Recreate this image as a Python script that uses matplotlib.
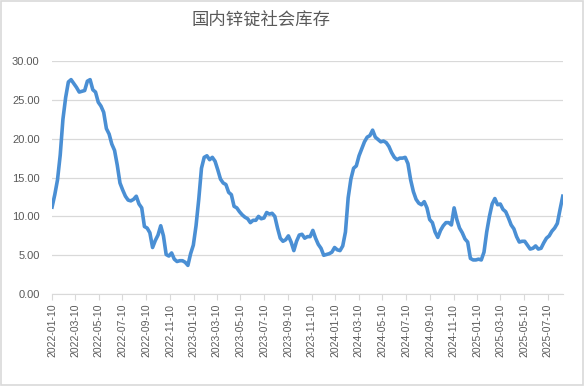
import matplotlib
matplotlib.use("Agg")
import matplotlib.pyplot as plt
import matplotlib.dates as mdates
from matplotlib.patches import Rectangle
import numpy as np
import pandas as pd

plt.rcParams['font.family'] = ['Liberation Sans', 'Noto Sans CJK SC', 'DejaVu Sans']

# 周度数据, 从 2022-01-10 开始 (万吨)
start_date = "2022-01-10"
stock = [
    11.2, 12.8, 14.7, 17.9, 22.5, 25.3, 27.3, 27.6, 27.1, 26.6,
    26.0, 26.1, 26.2, 27.4, 27.6, 26.3, 26.0, 24.7, 24.2, 23.4,
    21.3, 20.6, 19.3, 18.5, 16.6, 14.3, 13.4, 12.6, 12.1, 12.0,
    12.2, 12.6, 11.6, 11.1, 8.7, 8.5, 7.9, 6.0, 6.9, 7.6,
    8.8, 7.5, 5.1, 4.9, 5.3, 4.5, 4.2, 4.3, 4.3, 4.1,
    3.7, 5.2, 6.3, 8.8, 12.2, 16.2, 17.6, 17.8, 17.3, 17.6,
    17.1, 16.0, 14.8, 14.3, 14.1, 13.1, 12.8, 11.3, 11.1, 10.6,
    10.2, 9.9, 9.7, 9.2, 9.5, 9.5, 10.0, 9.7, 9.8, 10.5,
    10.3, 10.4, 10.0, 8.5, 7.2, 6.8, 7.0, 7.5, 6.7, 5.6,
    6.8, 7.6, 7.7, 7.2, 7.4, 7.4, 8.2, 7.2, 6.4, 5.9,
    5.0, 5.1, 5.2, 5.4, 6.0, 5.7, 5.6, 6.2, 8.0, 12.4,
    14.8, 16.2, 16.5, 17.8, 18.7, 19.6, 20.2, 20.4, 21.1, 20.2,
    19.9, 19.6, 19.7, 19.5, 19.0, 18.2, 17.6, 17.3, 17.5, 17.5,
    17.6, 16.8, 14.7, 13.2, 12.2, 11.7, 11.5, 11.9, 11.1, 9.6,
    9.2, 8.0, 7.3, 8.2, 8.8, 9.2, 9.2, 8.9, 11.1, 9.6,
    8.5, 7.9, 7.1, 6.7, 4.6, 4.4, 4.4, 4.5, 4.4, 5.4,
    8.0, 10.0, 11.6, 12.3, 11.5, 11.6, 10.9, 10.6, 9.8, 8.9,
    8.4, 7.4, 6.7, 6.8, 6.8, 6.3, 5.8, 5.9, 6.2, 5.8,
    5.9, 6.6, 7.2, 7.5, 8.1, 8.5, 9.1, 10.9, 12.6,
]
tick_labels = [
    "2022-01-10", "2022-03-10", "2022-05-10", "2022-07-10", "2022-09-10", "2022-11-10",
    "2023-01-10", "2023-03-10", "2023-05-10", "2023-07-10", "2023-09-10", "2023-11-10",
    "2024-01-10", "2024-03-10", "2024-05-10", "2024-07-10", "2024-09-10", "2024-11-10",
    "2025-01-10", "2025-03-10", "2025-05-10", "2025-07-10",
]
y_ticks = [0, 5, 10, 15, 20, 25, 30]
title = "国内锌锭社会库存"

dates = pd.date_range(start_date, periods=len(stock), freq="7D")
ticks = pd.to_datetime(tick_labels)

grey = "#595959"
fig = plt.figure(figsize=(5.85, 3.86), dpi=100)
ax = fig.add_axes([0.089, 0.238, 0.873, 0.604])

ax.plot(dates, stock, color="#4A8FD4", lw=2.6, solid_joinstyle="round")

ax.set_ylim(0, 30)
ax.set_yticks(y_ticks)
ax.yaxis.set_major_formatter(plt.FuncFormatter(lambda v, p: f"{v:.2f}"))
ax.set_xlim(dates[0], dates[-1])
ax.set_xticks(ticks)
ax.set_xticklabels(tick_labels, rotation=90)

ax.grid(axis="y", color="#d9d9d9", lw=0.9)
ax.set_axisbelow(True)
for s in ["top", "right", "left"]:
    ax.spines[s].set_visible(False)
ax.spines["bottom"].set_color("#d9d9d9")
ax.tick_params(axis="y", length=0, pad=9, labelsize=8, labelcolor=grey)
ax.tick_params(axis="x", length=4, color="#d9d9d9", pad=3, labelsize=7.5, labelcolor=grey)

fig.text(0.446, 0.948, title, ha="center", va="center", fontsize=12.5,
         color=grey, family=["Noto Sans CJK SC", "DejaVu Sans"], weight="light")

fig.patches.append(Rectangle((0.002, 0.003), 0.995, 0.994, transform=fig.transFigure,
                             fill=False, edgecolor="#d9d9d9", lw=1.2))

fig.savefig("out.png", dpi=100)
